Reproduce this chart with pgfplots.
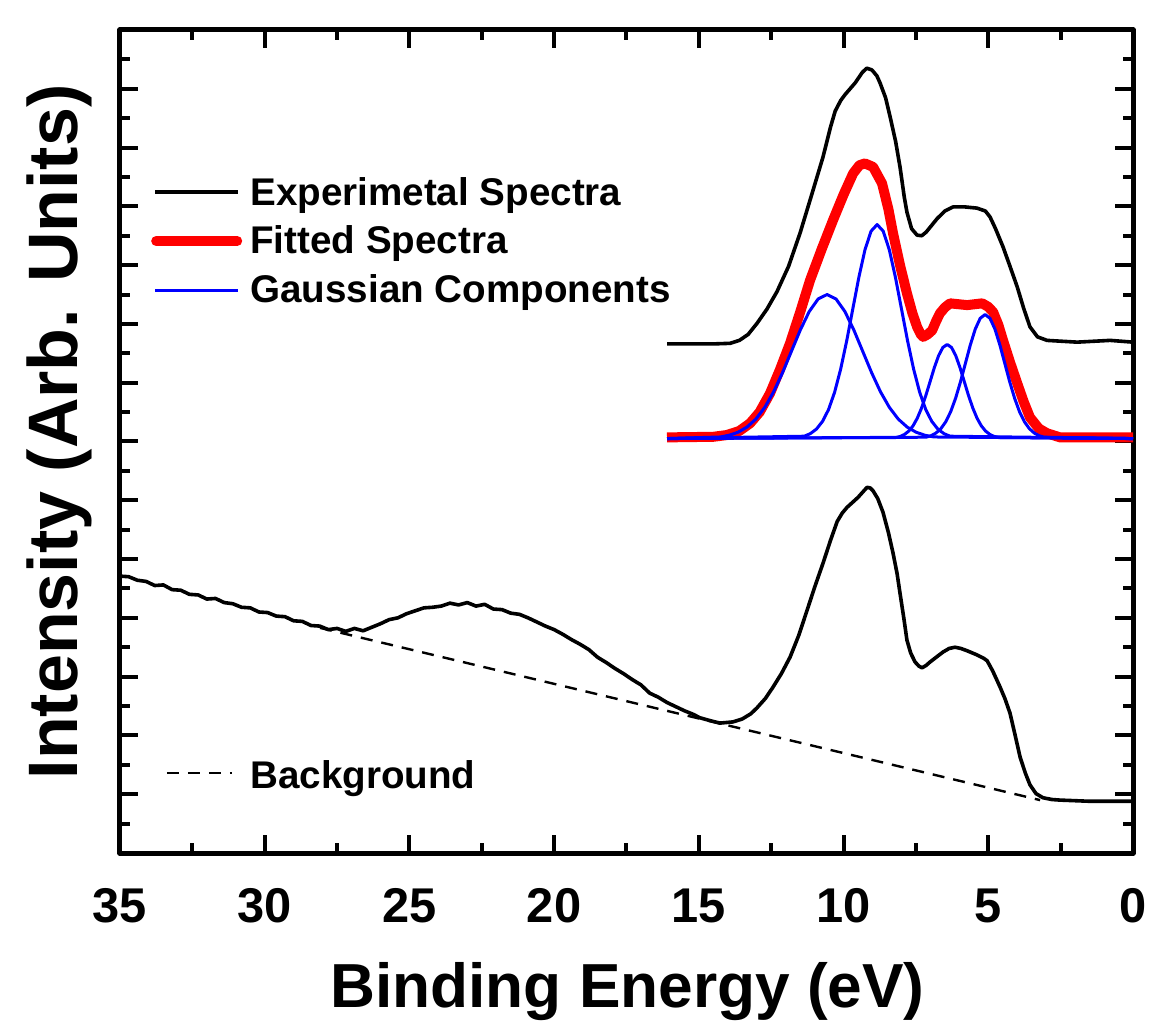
\documentclass[border=0pt]{standalone}
\usepackage{fontspec}
\setmainfont{Liberation Sans}
\usepackage{pgfplots}
\pgfplotsset{compat=1.18}
\definecolor{fitred}{RGB}{255,0,0}
\definecolor{gblue}{RGB}{0,0,255}
\begin{document}
\begin{tikzpicture}
\begin{axis}[
 name=main,
 scale only axis, width=506.5pt, height=411.5pt,
 xmin=0, xmax=35, ymin=0, ymax=14,
 x dir=reverse,
 xtick={0,5,...,35}, minor x tick num=1,
 ytick={0,1,...,14}, minor y tick num=1, yticklabels={},
 tick align=inside,
 major tick length=9pt, minor tick length=5pt,
 every tick/.style={black, line width=2pt},
 axis line style={line width=2.5pt},
 /pgf/number format/assume math mode=true,
 xticklabel style={font=\fontsize{24.4}{24.4}\selectfont\bfseries, anchor=base, yshift=-34.5pt},
 xlabel={Binding Energy (eV)},
 xlabel style={font=\fontsize{31.1}{31.1}\selectfont\bfseries, at={(axis description cs:0.501,-0.1883)}, anchor=base},
 ylabel={Intensity (Arb. Units)},
 ylabel style={font=\fontsize{35}{35}\selectfont\bfseries, at={(axis description cs:-0.0415,0.5115)}, anchor=base, rotate=0},
 line join=round,
]
% lower experimental spectrum
\addplot[black, line width=1.8pt] coordinates {
(35.0,4.71) (34.7,4.70) (34.4,4.64) (34.1,4.62) (33.8,4.55) (33.5,4.56) (33.2,4.48) (32.9,4.47)
(32.6,4.40) (32.3,4.39) (32.0,4.32) (31.7,4.33) (31.4,4.26) (31.1,4.24) (30.8,4.18) (30.5,4.17)
(30.2,4.10) (29.9,4.09) (29.6,4.03) (29.3,4.02) (29.0,3.95) (28.7,3.94) (28.4,3.87) (28.1,3.86)
(27.8,3.80) (27.5,3.82) (27.2,3.77) (26.9,3.82) (26.6,3.78) (26.3,3.84) (26.0,3.90) (25.7,3.97)
(25.4,4.00) (25.1,4.07) (24.8,4.12) (24.5,4.17) (24.2,4.18) (23.9,4.20) (23.6,4.25) (23.3,4.22)
(23.0,4.26) (22.7,4.20) (22.4,4.23) (22.1,4.15) (21.8,4.14) (21.5,4.08) (21.2,4.06) (20.9,4.00)
(20.6,3.93) (20.3,3.86) (20.0,3.80) (19.7,3.72) (19.4,3.63) (19.1,3.55) (18.8,3.46) (18.5,3.33)
(18.2,3.24) (17.9,3.14) (17.6,3.05) (17.3,2.95) (17.0,2.86) (16.7,2.72) (16.4,2.65) (16.1,2.56)
(15.8,2.49) (15.5,2.42) (15.2,2.36) (14.96,2.30) (14.6,2.25) (14.27,2.21) (13.82,2.23) (13.5,2.28)
(13.2,2.37) (12.99,2.47) (12.7,2.63) (12.44,2.82) (12.15,3.05) (11.85,3.33) (11.55,3.70) (11.26,4.13)
(11.0,4.52) (10.71,4.93) (10.45,5.32) (10.22,5.64) (10.05,5.78) (9.88,5.88) (9.70,5.96) (9.50,6.05)
(9.30,6.16) (9.19,6.22) (9.08,6.21) (8.98,6.16) (8.82,6.03) (8.64,5.80) (8.45,5.45) (8.29,5.10)
(8.15,4.75) (8.05,4.42) (7.92,4.00) (7.81,3.62) (7.68,3.40) (7.53,3.25) (7.40,3.18) (7.29,3.15)
(7.15,3.19) (7.01,3.25) (6.80,3.33) (6.56,3.42) (6.35,3.48) (6.15,3.50) (5.95,3.48) (5.73,3.44)
(5.39,3.37) (5.15,3.31) (5.04,3.27) (4.85,3.10) (4.59,2.82) (4.42,2.62) (4.25,2.38) (4.08,2.02)
(3.90,1.63) (3.72,1.36) (3.56,1.16) (3.35,1.01) (3.11,0.94) (2.80,0.91) (2.52,0.90) (1.5,0.88) (0,0.88)
};
% background
\addplot[black, line width=1.2pt, dash pattern=on 6pt off 4.5pt] coordinates {(28.09,3.83) (3.21,0.90)};
% upper experimental spectrum
\addplot[black, line width=1.8pt] coordinates {
(16.10,8.66) (14.5,8.66) (13.92,8.67) (13.6,8.72) (13.3,8.82) (12.99,9.01) (12.65,9.25) (12.30,9.55)
(11.9,9.98) (11.50,10.55) (11.1,11.20) (10.71,11.84) (10.45,12.35) (10.29,12.62) (10.1,12.80) (9.95,12.90)
(9.60,13.10) (9.35,13.28) (9.2,13.35) (9.02,13.32) (8.85,13.22) (8.74,13.10) (8.55,12.85) (8.39,12.52)
(8.2,12.10) (8.05,11.67) (7.9,11.15) (7.81,10.90) (7.65,10.62) (7.46,10.51) (7.3,10.50) (7.15,10.56)
(6.95,10.68) (6.77,10.79) (6.5,10.92) (6.22,10.99) (5.8,10.99) (5.39,10.97) (5.1,10.92) (4.94,10.82)
(4.75,10.62) (4.49,10.31) (4.25,9.98) (4.00,9.63) (3.78,9.27) (3.56,8.95) (3.3,8.78) (2.97,8.72)
(1.93,8.69) (0.79,8.72) (0,8.69)
};
% fitted spectrum
\addplot[fitred, line width=5pt] coordinates {
(16.10,7.07) (14.5,7.08) (14.03,7.11) (13.6,7.18) (13.23,7.31) (12.9,7.50) (12.54,7.82) (12.2,8.22)
(11.85,8.67) (11.5,9.20) (11.16,9.74) (10.75,10.28) (10.36,10.77) (10.0,11.20) (9.67,11.56) (9.45,11.70)
(9.26,11.73) (8.98,11.67) (8.67,11.39) (8.45,10.95) (8.29,10.54) (8.05,10.00) (7.81,9.52) (7.62,9.18)
(7.46,8.95) (7.33,8.82) (7.25,8.78) (7.10,8.82) (6.94,8.89) (6.80,9.05) (6.67,9.18) (6.50,9.28)
(6.32,9.35) (5.73,9.32) (5.21,9.35) (5.00,9.29) (4.83,9.20) (4.65,8.98) (4.49,8.72) (4.25,8.35)
(4.00,7.99) (3.78,7.68) (3.56,7.41) (3.25,7.22) (2.97,7.14) (2.52,7.07) (0,7.07)
};
% Gaussian components
\addplot[gblue, line width=1.5pt] coordinates {
(16.1,7.05) (14.26,7.077) (13.953,7.106) (13.645,7.158) (13.338,7.245) (13.030,7.381) (12.723,7.580)
(12.415,7.846) (12.108,8.172) (11.800,8.536) (11.493,8.899) (11.185,9.212) (10.878,9.425) (10.57,9.500)
(10.262,9.425) (9.955,9.212) (9.647,8.899) (9.340,8.536) (9.032,8.172) (8.725,7.846) (8.417,7.580)
(8.110,7.381) (7.802,7.245) (7.495,7.158) (7.187,7.106) (6.880,7.077) (0,7.05)
};
\addplot[gblue, line width=1.5pt] coordinates {
(16.1,7.05) (11.36,7.090) (11.15,7.133) (10.94,7.210) (10.73,7.340) (10.52,7.542) (10.31,7.837)
(10.10,8.232) (9.89,8.716) (9.68,9.258) (9.47,9.797) (9.26,10.262) (9.05,10.578) (8.84,10.690)
(8.63,10.578) (8.42,10.262) (8.21,9.797) (8.00,9.258) (7.79,8.716) (7.58,8.232) (7.37,7.837)
(7.16,7.542) (6.95,7.340) (6.74,7.210) (6.53,7.133) (6.32,7.090) (0,7.05)
};
\addplot[gblue, line width=1.5pt] coordinates {
(16.1,7.05) (8.190,7.068) (8.043,7.086) (7.895,7.120) (7.748,7.177) (7.600,7.266) (7.453,7.396)
(7.305,7.570) (7.158,7.782) (7.010,8.020) (6.863,8.258) (6.715,8.462) (6.568,8.601) (6.42,8.650)
(6.272,8.601) (6.125,8.462) (5.978,8.258) (5.830,8.020) (5.683,7.782) (5.535,7.570) (5.388,7.396)
(5.240,7.266) (5.093,7.177) (4.945,7.120) (4.798,7.086) (4.650,7.068) (0,7.05)
};
\addplot[gblue, line width=1.5pt] coordinates {
(16.1,7.05) (7.15,7.073) (6.98,7.098) (6.81,7.143) (6.64,7.218) (6.47,7.335) (6.30,7.506)
(6.13,7.735) (5.96,8.016) (5.79,8.330) (5.62,8.643) (5.45,8.912) (5.28,9.095) (5.11,9.160)
(4.94,9.095) (4.77,8.912) (4.60,8.643) (4.43,8.330) (4.26,8.016) (4.09,7.735) (3.92,7.506)
(3.75,7.335) (3.58,7.218) (3.41,7.143) (3.24,7.098) (3.07,7.073) (0,7.05)
};
% legend
\draw[black, line width=1.8pt] (axis cs:33.79,11.24) -- (axis cs:30.92,11.24);
\draw[fitred, line width=5pt, line cap=round] (axis cs:33.75,10.41) -- (axis cs:30.95,10.41);
\draw[gblue, line width=1.5pt] (axis cs:33.79,9.57) -- (axis cs:30.92,9.57);
\draw[black, line width=1.2pt, dash pattern=on 6pt off 4.5pt] (axis cs:33.38,1.36) -- (axis cs:31.13,1.36);
\node[anchor=base west, inner sep=0pt, font=\fontsize{19.3}{19.3}\selectfont\bfseries] at (axis cs:30.51,11.02) {Experimetal Spectra};
\node[anchor=base west, inner sep=0pt, font=\fontsize{19.3}{19.3}\selectfont\bfseries] at (axis cs:30.51,10.20) {Fitted Spectra};
\node[anchor=base west, inner sep=0pt, font=\fontsize{19.3}{19.3}\selectfont\bfseries] at (axis cs:30.51,9.37) {Gaussian Components};
\node[anchor=base west, inner sep=0pt, font=\fontsize{19.3}{19.3}\selectfont\bfseries] at (axis cs:30.51,1.105) {Background};
\end{axis}
\pgfresetboundingbox
\path ([shift={(-60pt,-86.5pt)}]main.south west) rectangle ([shift={(9.5pt,15pt)}]main.north east);
\end{tikzpicture}
\end{document}
